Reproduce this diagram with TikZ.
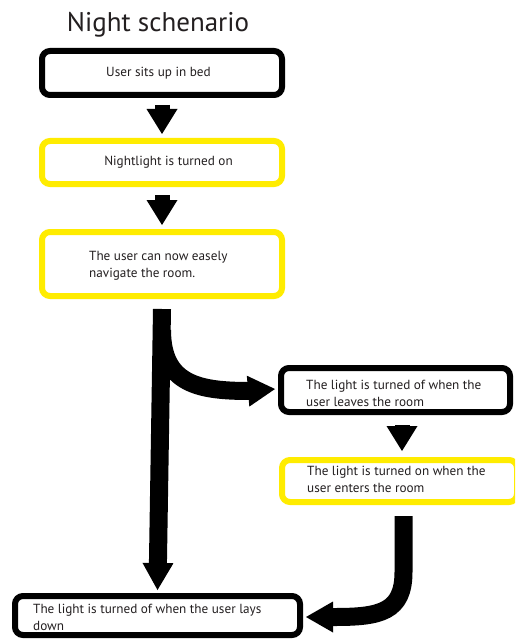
\documentclass[tikz,border=0pt]{standalone}
\usepackage{fontspec}
\setmainfont{PT Sans}
\usetikzlibrary{arrows.meta}
\definecolor{ylw}{RGB}{255,236,0}
\definecolor{txtc}{RGB}{35,31,32}
\begin{document}
\begin{tikzpicture}[x=1pt,y=-1pt,
  box/.style={draw, line width=6pt, rounded corners=8pt, inner sep=0pt, fill=white},
  blackbox/.style={box, draw=black},
  yellowbox/.style={box, draw=ylw},
  txt/.style={inner sep=0pt, align=left, font=\fontsize{13.2}{17}\selectfont, text=txtc},
  flow/.style={line width=15pt, -{Triangle[width=31pt,length=25pt,line width=0pt]}},
  bigflow/.style={line width=18pt, -{Triangle[width=31pt,length=27pt,line width=0pt]}},
]
\useasboundingbox (0,0) rectangle (515,639);
\fill[white] (0,0) rectangle (515,639);
\clip (0,0) rectangle (515,639);

% title
\node[anchor=base, inner sep=0pt, font=\fontsize{27}{30}\selectfont, text=txtc] (title) at (158,32) {Night schenario};

% boxes
\node[blackbox, minimum width=240pt, minimum height=44pt] (b1) at (162,73) {};
\node[yellowbox, minimum width=240pt, minimum height=43pt] (b2) at (162,162.5) {};
\node[yellowbox, minimum width=240pt, minimum height=64pt] (b3) at (162,264) {};
\node[blackbox, minimum width=229pt, minimum height=44pt] (b4) at (395.5,390) {};
\node[yellowbox, minimum width=235pt, minimum height=42pt] (b5) at (399.5,481) {};
\node[blackbox, minimum width=285pt, minimum height=39pt] (b6) at (157.5,615.5) {};

% texts
\node[txt] (t1) at (158.5,73) {User sits up in bed};
\node[txt] (t2) at (168.5,162) {Nightlight is turned on};
\node[txt, anchor=west] (t3) at (89,266) {The user can now easely\\navigate the room.};
\node[txt, anchor=west] (t4) at (306,393) {The light is turned of when the\\user leaves the room};
\node[txt, anchor=west] (t5) at (307,479) {The light is turned on when the\\user enters the room};
\node[txt, anchor=west] (t6) at (33,617) {The light is turned of when the user lays\\down};

% connectors
\draw[flow] ([yshift=-7pt]b1.south) -- ([yshift=4pt]b2.north);
\draw[flow] ([yshift=-8pt]b2.south) -- ([yshift=4pt]b3.north);
\coordinate (split) at (162,330);
\draw[bigflow] (split) .. controls (162,385) and (200,391) .. (250,391) -- ([xshift=-3pt,yshift=1pt]b4.west);
\draw[bigflow] ([yshift=-10pt]b3.south) -- ([yshift=3pt]b6.north);
\draw[flow] ([xshift=6.5pt,yshift=-10pt]b4.south) -- ([xshift=2.5pt,yshift=6pt]b5.north);
\draw[bigflow] ([xshift=4pt,yshift=-11pt]b5.south) -- (403.5,572) .. controls (403.5,612) and (380,617) .. (335,617) -- ([xshift=3pt,yshift=-1.5pt]b6.east);
\end{tikzpicture}
\end{document}
